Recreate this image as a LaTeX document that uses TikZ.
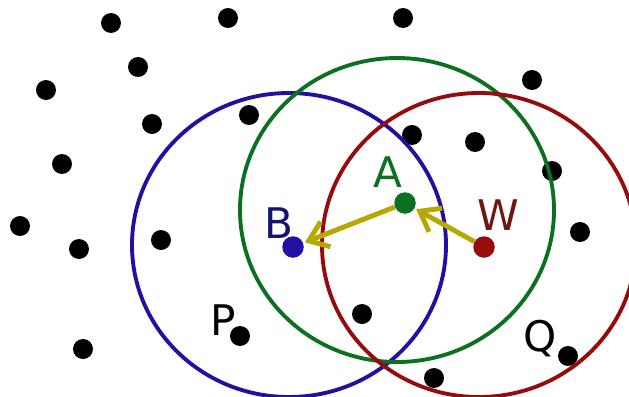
\documentclass[tikz,border=0pt]{standalone}
\usepackage{fontspec}
\setmainfont{DejaVu Sans}
\usetikzlibrary{arrows.meta}

\definecolor{ringblue}{RGB}{34,16,160}
\definecolor{ringgreen}{RGB}{12,112,32}
\definecolor{ringred}{RGB}{150,12,12}
\definecolor{arrowolive}{RGB}{182,168,0}
\definecolor{labelred}{RGB}{112,20,20}
\definecolor{labelblue}{RGB}{20,20,112}

\begin{document}
\begin{tikzpicture}[
    x=0.02cm, y=-0.02cm,
    dot/.style={circle, fill=black, inner sep=0pt, minimum size=0.4cm},
    keydot/.style={circle, inner sep=0pt, minimum size=0.43cm},
    ring/.style={line width=2.2pt},
    lbl/.style={font=\fontsize{24}{28}\selectfont, inner sep=0pt},
    arr/.style={-{Straight Barb[length=3.6mm,width=5.4mm]}, line width=2.8pt, arrowolive, shorten >=1pt}
]
\useasboundingbox (0,0) rectangle (629,396);

% scattered points
\foreach \px/\py [count=\i] in {111/23, 228/18, 403/18, 138/67, 46/90, 532/80,
    152/124, 249/115, 62/164, 412/135, 475/142, 552/171, 20/226, 79/249,
    161/240, 580/232, 362/314, 240/336, 83/349, 434/378, 568/356}
  \node[dot] (d\i) at (\px,\py) {};

% rings
\draw[ring, ringblue] (289,245) ellipse [x radius=157, y radius=152];
\draw[ring, ringgreen] (397,210) ellipse [x radius=157, y radius=152];
\draw[ring, ringred] (479,245) ellipse [x radius=157, y radius=152];

% key points
\node[keydot, fill=ringblue] (B) at (293,247) {};
\node[keydot, fill=ringgreen] (A) at (405,203) {};
\node[keydot, fill=ringred] (W) at (484,247) {};

\node[lbl, ringgreen] (lA) at (388,172) {A};
\node[lbl, labelblue] (lB) at (279,223) {B};
\node[lbl, labelred] (lW) at (498,215) {W};
\node[lbl] (lP) at (223,320) {P};
\node[lbl] (lQ) at (540,339) {Q};

\draw[arr] (A) -- (B);
\draw[arr] (W) -- (A);
\end{tikzpicture}
\end{document}
